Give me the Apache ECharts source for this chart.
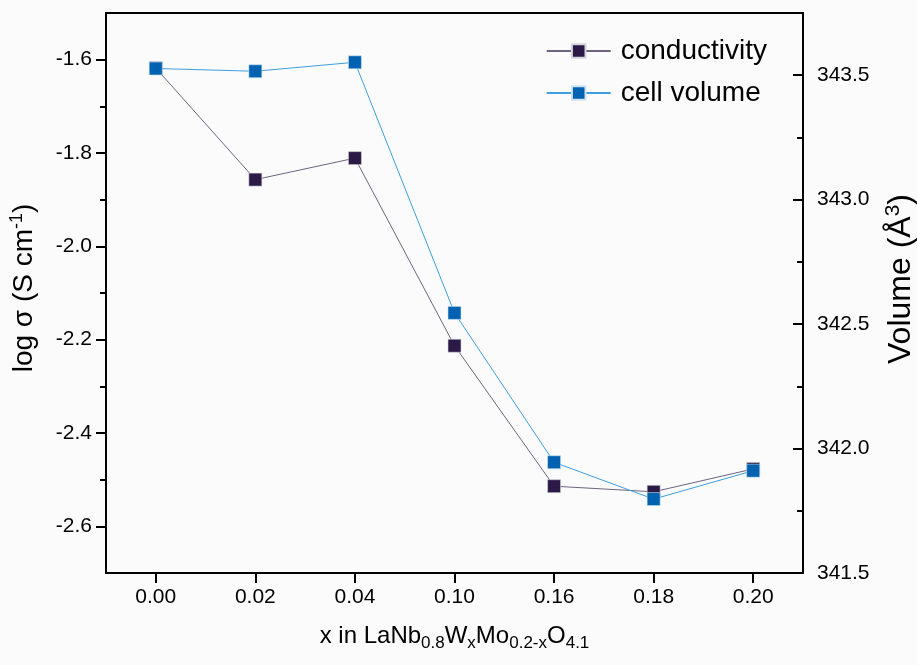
<!DOCTYPE html>
<html>
<head>
<meta charset="utf-8">
<script src="https://cdn.jsdelivr.net/npm/echarts@6/dist/echarts.min.js"></script>
<style>html,body{margin:0;padding:0;background:#fbfbfb;}#c{width:917px;height:665px;}</style>
</head>
<body>
<div id="c"></div>
<script>
const categories = ['0.00', '0.02', '0.04', '0.10', '0.16', '0.18', '0.20'];
const conductivity = [-1.618, -1.857, -1.811, -2.213, -2.514, -2.526, -2.477];
const cellVolume = [343.527, 343.516, 343.552, 342.545, 341.945, 341.797, 341.911];
const leftMajorTicks = [-2.6, -2.4, -2.2, -2.0, -1.8, -1.6];
const leftMinorTicks = [-2.5, -2.3, -2.1, -1.9, -1.7];
const rightMajorTicks = [341.5, 342.0, 342.5, 343.0, 343.5];
const rightMinorTicks = [341.75, 342.25, 342.75, 343.25];

const FONT = '"Liberation Sans", Arial, sans-serif';
const chart = echarts.init(document.getElementById('c'));
const axisLine = {show: true, lineStyle: {color: '#000', width: 2}};
chart.setOption({
  backgroundColor: '#fbfbfb',
  animation: false,
  grid: {left: 106, right: 114, top: 13, bottom: 92, containLabel: false, outerBoundsMode: 'none'},
  legend: {
    orient: 'vertical', right: 145, top: 32, itemWidth: 64, itemHeight: 17, itemGap: 14,
    textStyle: {fontFamily: FONT, fontSize: 28, color: '#000', padding: [0, 0, 0, 5]},
    data: ['conductivity', 'cell volume']
  },
  xAxis: [{
    type: 'category', data: categories, boundaryGap: true,
    axisLine: axisLine,
    axisTick: {show: true, alignWithLabel: true, length: 10, lineStyle: {color: '#000', width: 2}},
    axisLabel: {fontFamily: FONT, fontSize: 21, color: '#000', margin: 14},
    name: 'x in LaNb{sub|0.8}W{sub|x}Mo{sub|0.2-x}O{sub|4.1}',
    nameLocation: 'middle', nameGap: 48,
    nameTextStyle: {fontFamily: FONT, fontSize: 24, color: '#000',
      rich: {sub: {fontFamily: FONT, fontSize: 17, color: '#000', verticalAlign: 'bottom', padding: [14, 0, 0, 0]}}}
  }, {
    type: 'category', data: categories, position: 'top', boundaryGap: true,
    axisLine: axisLine, axisTick: {show: false}, axisLabel: {show: false}
  }],
  yAxis: [{
    type: 'value', position: 'left', min: -2.7, max: -1.5,
    axisLine: axisLine, splitLine: {show: false},
    axisTick: {show: true, length: 10, customValues: leftMajorTicks, lineStyle: {color: '#000', width: 2}},
    axisLabel: {fontFamily: FONT, fontSize: 21, color: '#000', margin: 14, customValues: leftMajorTicks,
      formatter: v => v.toFixed(1)},
    name: 'log σ (S cm{sup|-1})', nameLocation: 'middle', nameRotate: 90, nameGap: 66,
    nameTextStyle: {fontFamily: FONT, fontSize: 28, color: '#000', padding: [0, 0, 0, 10],
      rich: {sup: {fontFamily: FONT, fontSize: 18, color: '#000', verticalAlign: 'top', padding: [0, 0, 14, 0]}}}
  }, {
    type: 'value', position: 'right', min: 341.5, max: 343.75,
    axisLine: axisLine, splitLine: {show: false},
    axisTick: {show: true, inside: true, length: 10, customValues: rightMajorTicks, lineStyle: {color: '#000', width: 2}},
    axisLabel: {fontFamily: FONT, fontSize: 21, color: '#000', margin: 14, customValues: rightMajorTicks,
      formatter: v => v.toFixed(1)},
    name: 'Volume (Å{sup|3})', nameLocation: 'middle', nameRotate: 90, nameGap: 80,
    nameTextStyle: {fontFamily: FONT, fontSize: 32, color: '#000', padding: [0, 0, 0, 28],
      rich: {sup: {fontFamily: FONT, fontSize: 21, color: '#000', verticalAlign: 'top', padding: [0, 0, 16, 0]}}}
  }, {
    type: 'value', position: 'left', min: -2.7, max: -1.5,
    axisLine: {show: false}, splitLine: {show: false}, axisLabel: {show: false},
    axisTick: {show: true, length: 6, customValues: leftMinorTicks, lineStyle: {color: '#000', width: 2}}
  }, {
    type: 'value', position: 'right', min: 341.5, max: 343.75,
    axisLine: {show: false}, splitLine: {show: false}, axisLabel: {show: false},
    axisTick: {show: true, inside: true, length: 6, customValues: rightMinorTicks, lineStyle: {color: '#000', width: 2}}
  }],
  series: [{
    name: 'conductivity', type: 'line', yAxisIndex: 0, data: conductivity,
    symbol: 'rect', symbolSize: 13,
    lineStyle: {color: '#6e6480', width: 1},
    itemStyle: {color: '#2b1a46', borderColor: '#d8d4de', borderWidth: 0.6},
    z: 2
  }, {
    name: 'cell volume', type: 'line', yAxisIndex: 1, data: cellVolume,
    symbol: 'rect', symbolSize: 13,
    lineStyle: {color: '#3d9ee0', width: 1},
    itemStyle: {color: '#0062b0', borderColor: '#cfe4f4', borderWidth: 0.6},
    z: 3
  }]
});
</script>
</body>
</html>
